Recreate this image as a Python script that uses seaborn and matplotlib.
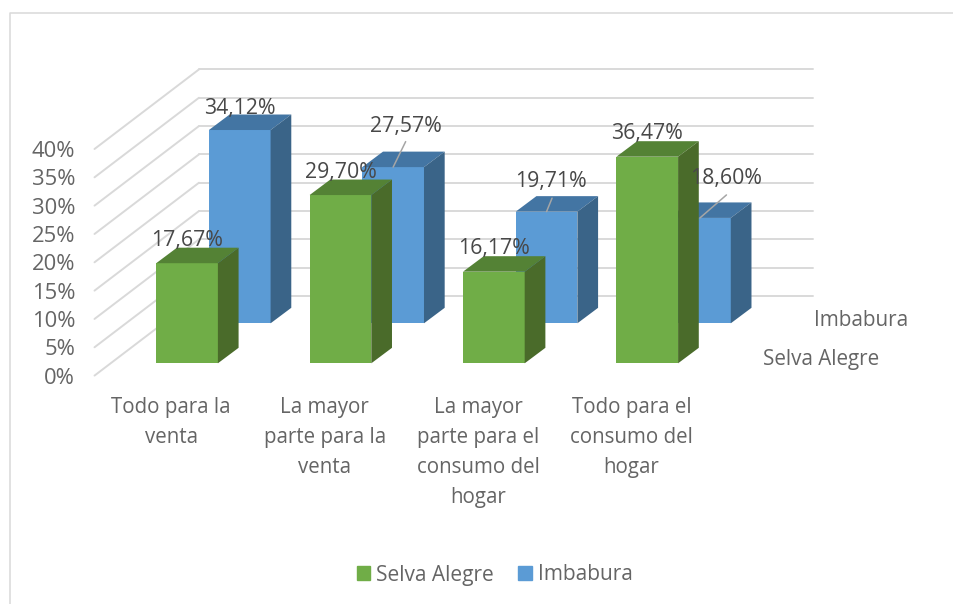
import matplotlib
matplotlib.use("Agg")
import matplotlib.pyplot as plt
import pandas as pd
import seaborn as sns
from matplotlib.lines import Line2D
from matplotlib.patches import Patch, Polygon
from matplotlib.transforms import IdentityTransform

categories = ["Todo para la\nventa", "La mayor\nparte para la\nventa",
              "La mayor\nparte para el\nconsumo del\nhogar", "Todo para el\nconsumo del\nhogar"]
selva_alegre = [17.67, 29.70, 16.17, 36.47]
imbabura = [34.12, 27.57, 19.71, 18.60]
percent_ticks = [0, 5, 10, 15, 20, 25, 30, 35, 40]
series_names = ["Selva Alegre", "Imbabura"]

W, H = 954, 604
GREEN, GREEN_TOP, GREEN_SIDE = "#70AD47", "#548235", "#4A6B2A"
BLUE, BLUE_TOP, BLUE_SIDE = "#5B9BD5", "#4375A3", "#3A6488"
GRID = "#D9D9D9"
TEXT = "#656565"
LABEL = "#484848"

sns.set_theme(style="white")
plt.rcParams["font.family"] = ["Open Sans", "DejaVu Sans"]
plt.rcParams["axes.facecolor"] = "none"
plt.rcParams["text.color"] = TEXT

fig = plt.figure(figsize=(W / 100, H / 100), dpi=100, facecolor="white")

PLOT_W, PLOT_H = 613.6, 226.6


def plane(left, base, z):
    ax = fig.add_axes([left / W, 1 - base / H, PLOT_W / W, PLOT_H / H], zorder=z)
    ax.set_xlim(-0.5, 3.5)
    ax.set_ylim(0, 40)
    sns.despine(ax=ax, left=True, bottom=True)
    ax.tick_params(length=0)
    return ax


def extrude(ax, top_c, side_c, dx=20.7, dy=15.5):
    to_px = ax.transData.transform
    for bar in list(ax.patches):
        x0, x1 = bar.get_x(), bar.get_x() + bar.get_width()
        (a, b), (c, d) = to_px([(x0, bar.get_height()), (x1, 0)])
        ax.add_patch(Polygon([(a, b), (c, b), (c + dx, b + dy), (a + dx, b + dy)],
                             closed=True, fc=top_c, ec="none",
                             transform=IdentityTransform(), clip_on=False))
        ax.add_patch(Polygon([(c, b), (c + dx, b + dy), (c + dx, d + dy), (c, d)],
                             closed=True, fc=side_c, ec="none",
                             transform=IdentityTransform(), clip_on=False))


def draw_bars(ax, values, color):
    df = pd.DataFrame({"category": categories, "value": values})
    sns.barplot(data=df, x="category", y="value", color=color, saturation=1,
                width=0.402, ax=ax, order=categories, edgecolor="none", linewidth=0)
    ax.set_xlim(-0.5, 3.5)
    ax.set_ylim(0, 40)
    ax.set(xlabel="", ylabel="", xticks=[], yticks=[])


# back wall with gridlines
wall = plane(199, 296, 1)
wall.set(xticks=[], yticks=percent_ticks, yticklabels=[])
wall.grid(axis="y", color=GRID, lw=1.4)
for ln in wall.get_ygridlines():
    ln.set_clip_on(False)

# front plane: axis labels and floor/side-wall lines
front = plane(94.5, 375.6, 1)
front.set_xticks(range(len(categories)))
front.set_xticklabels(categories, fontsize=14.8, color=TEXT, linespacing=1.56, va="top")
front.set_yticks(percent_ticks)
front.set_yticklabels([f"{t}%" for t in percent_ticks], fontsize=15.8, color=TEXT)
front.tick_params(axis="x", pad=15.5)
front.tick_params(axis="y", pad=14)
for t in percent_ticks:
    p0 = front.transData.transform((-0.5, t))
    p1 = wall.transData.transform((-0.5, t))
    wall.add_line(Line2D([p0[0], p1[0]], [p0[1], p1[1]], color=GRID, lw=1.4,
                         transform=IdentityTransform(), clip_on=False))

# blue series sits behind the green one
back = plane(163.05, 323.3, 2)
draw_bars(back, imbabura, BLUE)
extrude(back, BLUE_TOP, BLUE_SIDE)

near = plane(110.35, 363.3, 3)
draw_bars(near, selva_alegre, GREEN)
extrude(near, GREEN_TOP, GREEN_SIDE)

# value labels above every bar
overlay = plane(163.05, 323.3, 4)
overlay.set(xticks=[], yticks=[])
overlay.patch.set_visible(False)

for i, v in enumerate(selva_alegre):
    near.annotate(f"{v:.2f}%".replace(".", ","), (i, v), xytext=(0, 23),
                  textcoords="offset pixels", ha="center", va="center",
                  fontsize=15.3, color=LABEL, annotation_clip=False)
blue_offsets = [(0, 22), (13, 41), (4, 30), (26, 39)]
leader_ends = [None, (12.5, 25.5), (5.5, 13.5), (26.5, 23)]
for i, v in enumerate(imbabura):
    overlay.annotate(f"{v:.2f}%".replace(".", ","), (i, v), xytext=blue_offsets[i],
                     textcoords="offset pixels", ha="center", va="center",
                     fontsize=15.3, color=LABEL, annotation_clip=False)
    if leader_ends[i] is not None:
        overlay.annotate("", (i, v), xytext=leader_ends[i], textcoords="offset pixels",
                         arrowprops=dict(arrowstyle="-", color="#A6A6A6", lw=1.1,
                                         shrinkA=0, shrinkB=0), annotation_clip=False)

# depth-axis series names
fig.text(861 / W, 1 - 320 / H, series_names[1], ha="center", va="center", fontsize=14.85, color=TEXT)
fig.text(821 / W, 1 - 359 / H, series_names[0], ha="center", va="center", fontsize=14.85, color=TEXT)

# legend
handles = [Patch(color=GREEN, label=series_names[0]), Patch(color=BLUE, label=series_names[1])]
fig.legend(handles=handles, ncol=2, loc="center", bbox_to_anchor=(494.5 / W, 1 - 575 / H),
           frameon=False, fontsize=15, labelcolor=TEXT, handlelength=0.67, handleheight=0.67,
           handletextpad=0.25, columnspacing=1.2, borderpad=0, borderaxespad=0)

# chart frame
fig.add_artist(Line2D([9.8 / W, 9.8 / W, 1], [0, 1 - 12.7 / H, 1 - 12.7 / H], color=GRID, lw=1.1))

fig.savefig("out.png", dpi=100)
